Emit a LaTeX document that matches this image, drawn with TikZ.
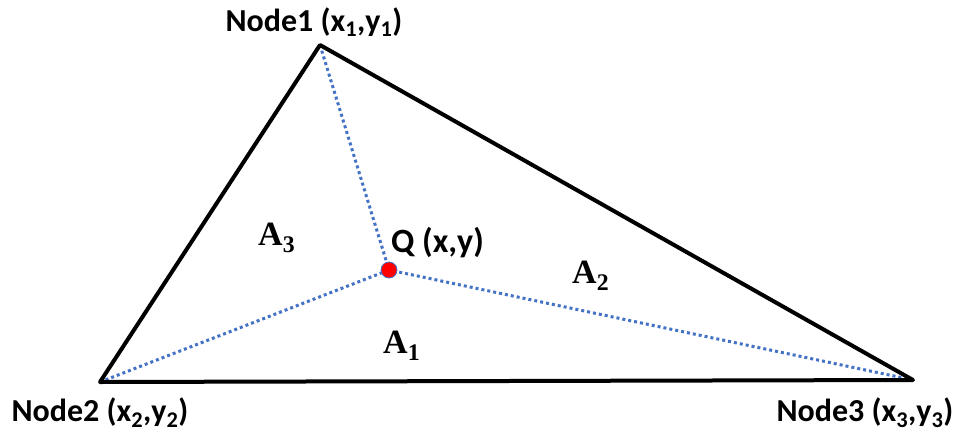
\documentclass[tikz,border=0pt]{standalone}
\usepackage{fontspec}
\setmainfont{Carlito}
\newfontfamily\serifbold{Liberation Serif}
\definecolor{dotblue}{RGB}{68,114,196}
\begin{document}
\begin{tikzpicture}[x=1pt,y=-1pt,
  edge/.style={line width=4pt,line cap=round,line join=round},
  guide/.style={dotblue,line width=3pt,dash pattern=on 3pt off 3pt},
  lbl/.style={font=\fontsize{32}{35}\selectfont\bfseries,inner sep=0pt},
  qlbl/.style={font=\fontsize{34}{37}\selectfont\bfseries,inner sep=0pt},
  area/.style={font=\fontsize{34}{37}\selectfont\serifbold\bfseries,inner sep=0pt}]
\useasboundingbox (0,0) rectangle (960,439);
\coordinate (n1) at (320,45);
\coordinate (n2) at (100,382);
\coordinate (n3) at (913,380);
\coordinate (q) at (389,270);
\draw[guide] (n1) -- (q);
\draw[guide] (n2) -- (q);
\draw[guide] (n3) -- (q);
\draw[edge] (n1) -- (n2) -- (n3) -- cycle;
\node[circle,fill=red,draw=dotblue,line width=0.8pt,minimum size=16pt,inner sep=0pt] (qd) at (q) {};
\node[lbl,anchor=base] (l1) at (314,31) {Node1 (x\textsubscript{1},y\textsubscript{1})};
\node[lbl,anchor=base] (l2) at (100,421) {Node2 (x\textsubscript{2},y\textsubscript{2})};
\node[lbl,anchor=base] (l3) at (865,421) {Node3 (x\textsubscript{3},y\textsubscript{3})};
\node[qlbl,anchor=base west] (lq) at (391,252) {Q (x,y)};
\node[area,anchor=base west] (a3) at (258,245) {A\textsubscript{3}};
\node[area,anchor=base west] (a2) at (572,283) {A\textsubscript{2}};
\node[area,anchor=base west] (a1) at (383,353) {A\textsubscript{1}};
\end{tikzpicture}
\end{document}
